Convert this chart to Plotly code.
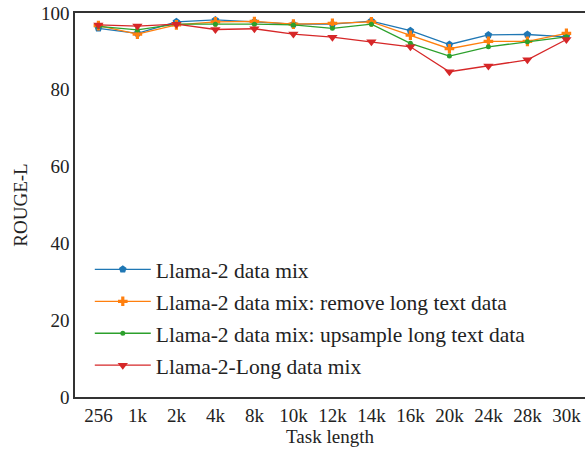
import plotly.graph_objects as go

task_lengths = ["256", "1k", "2k", "4k", "8k", "10k", "12k", "14k", "16k", "20k", "24k", "28k", "30k"]
llama2_mix = [96.0, 94.7, 97.7, 98.2, 97.7, 97.1, 97.1, 97.9, 95.4, 91.8, 94.3, 94.4, 93.8]
remove_long = [96.7, 94.5, 96.9, 97.7, 97.8, 97.1, 97.3, 97.7, 94.2, 90.7, 92.6, 92.6, 94.7]
upsample_long = [96.5, 95.6, 97.1, 97.1, 97.1, 96.9, 96.0, 97.1, 92.1, 88.8, 91.2, 92.5, 93.8]
llama2_long = [96.9, 96.6, 97.1, 95.7, 95.9, 94.5, 93.7, 92.5, 91.2, 84.7, 86.2, 87.8, 93.1]

series = [
    ("Llama-2 data mix", llama2_mix, "#1f77b4", "pentagon", 8),
    ("Llama-2 data mix: remove long text data", remove_long, "#ff7f0e", "cross", 8),
    ("Llama-2 data mix: upsample long text data", upsample_long, "#2ca02c", "circle", 5),
    ("Llama-2-Long data mix", llama2_long, "#d62728", "triangle-down", 9),
]

fig = go.Figure()
xs = list(range(len(task_lengths)))
for i, (name, vals, color, sym, size) in enumerate(series):
    fig.add_trace(go.Scatter(
        x=xs, y=vals, name=name, mode="lines+markers", legendgroup=f"g{i}",
        line=dict(color=color, width=1.3),
        marker=dict(symbol=sym, size=size, color=color, line=dict(width=0)),
    ))

font = "Liberation Serif, Times New Roman, serif"
fig.update_layout(
    width=585, height=449,
    margin=dict(l=75, r=0, t=13, b=52),
    paper_bgcolor="white", plot_bgcolor="white",
    font=dict(family=font, size=19, color="#222222"),
    showlegend=True,
    legend=dict(
        x=0.029, y=0.029, xanchor="left", yanchor="bottom",
        bgcolor="rgba(0,0,0,0)", font=dict(size=21.5, family=font),
        tracegroupgap=1, itemwidth=56,
    ),
    xaxis=dict(
        range=[-0.6, 12.477], tickmode="array", tickvals=xs, ticktext=task_lengths,
        showgrid=False, zeroline=False, showline=True, mirror=True,
        linecolor="#333333", linewidth=1.5, ticks="", ticklen=0,
        title=dict(text="Task length", standoff=4, font=dict(size=19)),
    ),
    yaxis=dict(
        range=[0, 100], tickvals=[0, 20, 40, 60, 80, 100],
        showgrid=False, zeroline=False, showline=True, mirror=False,
        linecolor="#333333", linewidth=1.5, ticks="", ticklen=0,
        title=dict(text="ROUGE-L", standoff=8, font=dict(size=19)),
    ),
)

fig.write_html(
    "out.html",
    config={"displayModeBar": False},
    post_script="document.body.style.margin='0';document.body.style.overflow='hidden';",
)
